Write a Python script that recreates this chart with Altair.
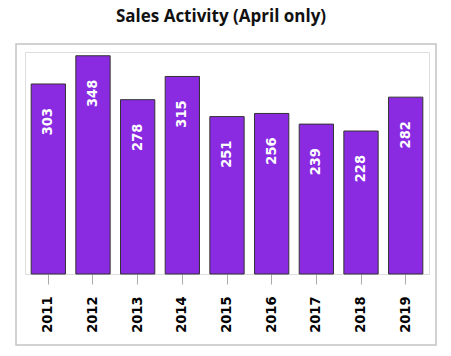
import altair as alt
import pandas as pd

years = ["2011", "2012", "2013", "2014", "2015", "2016", "2017", "2018", "2019"]
sales = [303, 348, 278, 315, 251, 256, 239, 228, 282]

df = pd.DataFrame({"year": years, "sales": sales})

NUMFONT = "DejaVu Sans Condensed, Open Sans, sans-serif"

x = alt.X(
    "year:N",
    sort=years,
    title=None,
    scale=alt.Scale(paddingInner=0.232, paddingOuter=0.138),
    axis=alt.Axis(
        labelAngle=270,
        labelFont=NUMFONT,
        labelFontWeight="bold",
        labelFontSize=14.5,
        labelColor="#000000",
        labelPadding=12,
        tickSize=10,
        tickColor="#aaaaaa",
        domain=False,
    ),
)
y = alt.Y("sales:Q", scale=alt.Scale(domain=[0, 354], nice=False), axis=None)

base = alt.Chart(df)

bars = base.mark_bar(color="#8A2BE2", stroke="#333333", strokeWidth=1).encode(x=x, y=y)

labels = base.mark_text(
    angle=270,
    align="right",
    baseline="middle",
    dx=-24,
    color="white",
    font=NUMFONT,
    fontWeight="bold",
    fontSize=14.5,
).encode(x=x, y=y, text="sales:Q")

frame = base.mark_rect(fill=None, stroke="#c4c4c4", strokeWidth=1.5).encode(
    x=alt.value(-9), x2=alt.value(411), y=alt.value(-8), y2=alt.value(293)
).transform_filter("datum.year == '2011'")

chart = (
    alt.layer(frame, bars, labels)
    .properties(
        width=404,
        height=222,
        autosize=alt.AutoSizeParams(type="none"),
        padding={"left": 25, "top": 52, "right": 22, "bottom": 82},
        title=alt.TitleParams(
            "Sales Activity (April only)",
            font="Open Sans",
            fontSize=17,
            fontWeight="bold",
            color="#111111",
            anchor="middle",
            offset=17,
            dx=-6,
        ),
    )
    .configure_view(stroke="#c4c4c4", strokeWidth=1.5)
    .configure(background="white")
)

chart.save("out.html", embed_options={"renderer": "svg", "actions": False})
